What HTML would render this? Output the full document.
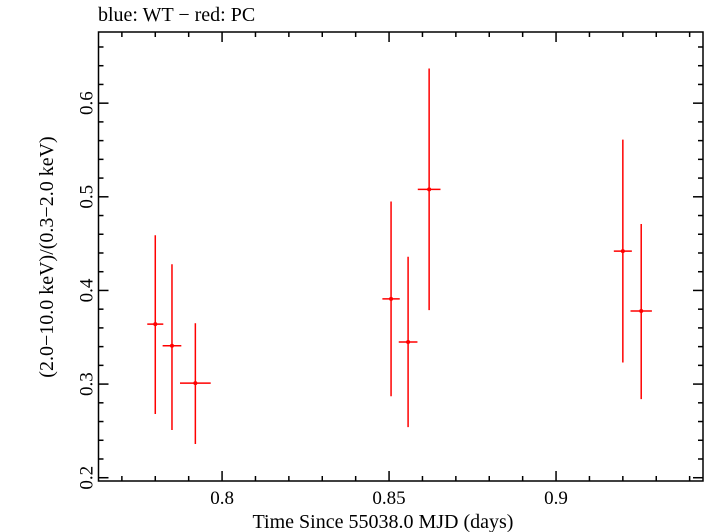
<!DOCTYPE html>
<html><head><meta charset="utf-8"><style>
body{margin:0;background:#fff;}
svg{display:block;font-family:"Liberation Serif",serif;}
</style></head><body>
<svg id="chart" width="705" height="532">
<text x="98" y="21" font-size="20">blue: WT − red: PC</text>
<rect x="98.5" y="32" width="604.5" height="449" fill="none" stroke="#000" stroke-width="1.5"/>
<g id="axes"></g>
<g id="series"></g>
<text x="383" y="528" font-size="20" text-anchor="middle">Time Since 55038.0 MJD (days)</text>
<text transform="translate(53,257) rotate(-90)" font-size="20" text-anchor="middle">(2.0−10.0 keV)/(0.3−2.0 keV)</text>
</svg>
<script>
const times=[0.780,0.785,0.792,0.8506,0.8557,0.862,0.920,0.9255];
const timeErr=[0.0024,0.0028,0.0046,0.0026,0.0028,0.0034,0.0027,0.0032];
const ratios=[0.364,0.341,0.301,0.391,0.345,0.508,0.442,0.378];
const ratioHi=[0.459,0.428,0.365,0.495,0.436,0.637,0.561,0.471];
const ratioLo=[0.268,0.251,0.236,0.287,0.254,0.379,0.323,0.284];
const xTicks=[0.8,0.85,0.9];
const xTickLabels=["0.8","0.85","0.9"];
const yTicks=[0.2,0.3,0.4,0.5,0.6];
const yTickLabels=["0.2","0.3","0.4","0.5","0.6"];

const L=98.5,R=703,T=32,B=481;
const xMin=0.763,xMax=0.944,yMin=0.1965,yMax=0.676;
function xs(v){return L+(v-xMin)/(xMax-xMin)*(R-L);}
function ys(v){return B-(v-yMin)/(yMax-yMin)*(B-T);}
const NS="http://www.w3.org/2000/svg";
function mk(tag,attrs,parent){const e=document.createElementNS(NS,tag);for(const k in attrs)e.setAttribute(k,attrs[k]);parent.appendChild(e);return e;}
const axes=document.getElementById('axes');
const ser=document.getElementById('series');
for(let i=77;i<=94;i++){const v=i/100;const x=xs(v);if(x<L||x>R)continue;
 const major=xTicks.some(t=>Math.abs(t-v)<1e-9);const len=major?10:5;
 let t=mk('line',{x1:x,x2:x,y1:B,y2:B-len,stroke:'#000','stroke-width':1.5},axes);
 
 
 t=mk('line',{x1:x,x2:x,y1:T,y2:T+len,stroke:'#000','stroke-width':1.5},axes);
 
 }
xTicks.forEach((v,i)=>{const t=mk('text',{x:xs(v),y:B+23,'font-size':19,'text-anchor':'middle'},axes);t.textContent=xTickLabels[i];
 
 });
for(let i=20;i<=67;i+=2){const v=i/100;const y=ys(v);if(y<T||y>B)continue;
 const major=i%10===0;const len=major?10:5;
 let t=mk('line',{x1:L,x2:L+len,y1:y,y2:y,stroke:'#000','stroke-width':1.5},axes);
 
 
 t=mk('line',{x1:R,x2:R-len,y1:y,y2:y,stroke:'#000','stroke-width':1.5},axes);
 
 }
yTicks.forEach((v,i)=>{const y=ys(v);const t=mk('text',{transform:`translate(${L-6},${y}) rotate(-90)`,'font-size':19,'text-anchor':'middle'},axes);t.textContent=yTickLabels[i];
 
 });
times.forEach((t,i)=>{
 const g=mk('g',{},ser);
 
 
 mk('line',{x1:xs(t),x2:xs(t),y1:ys(ratioHi[i]),y2:ys(ratioLo[i]),stroke:'#f00','stroke-width':1.5},g);
 mk('line',{x1:xs(t-timeErr[i]),x2:xs(t+timeErr[i]),y1:ys(ratios[i]),y2:ys(ratios[i]),stroke:'#f00','stroke-width':1.5},g);
 mk('circle',{cx:xs(t),cy:ys(ratios[i]),r:2,fill:'#f00'},g);
});
</script>
</body></html>
